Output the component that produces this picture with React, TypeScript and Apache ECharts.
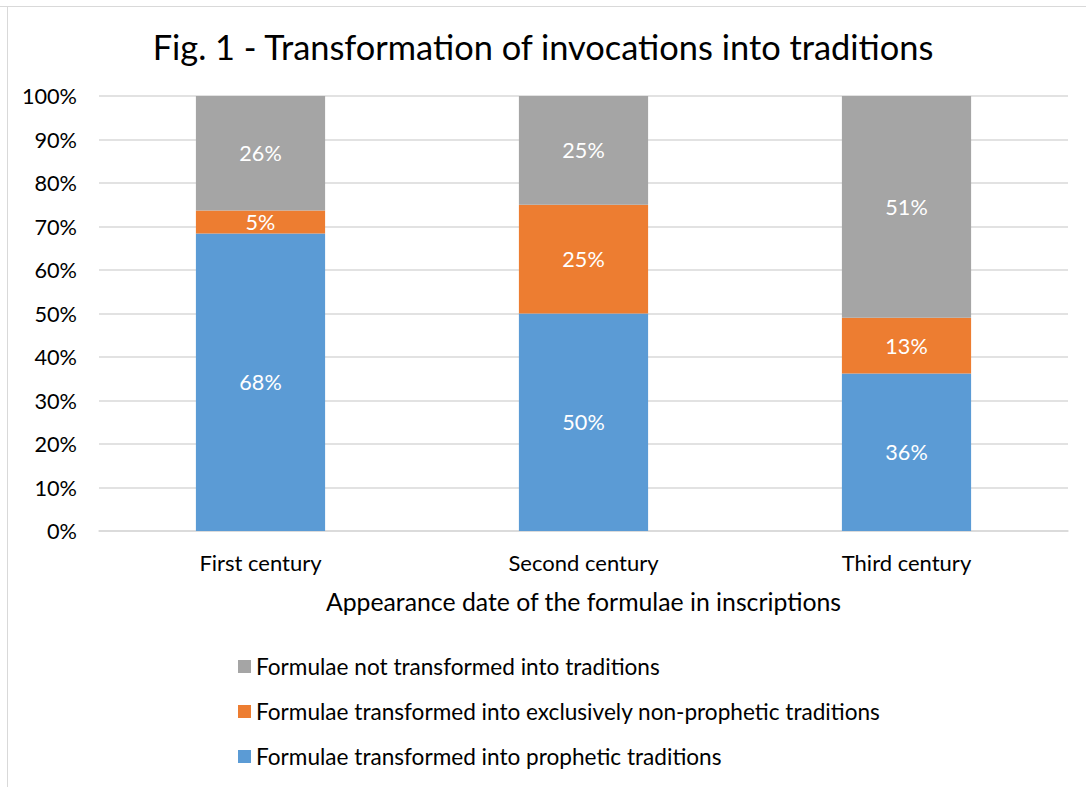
import React, { useEffect, useRef } from "react";
import * as echarts from "echarts";

const categories = ["First century", "Second century", "Third century"];
const prophetic = [68.4, 50, 36.2];
const nonProphetic = [5.3, 25, 12.8];
const notTransformed = [26.3, 25, 51];
const seriesNames = [
  "Formulae transformed into prophetic traditions",
  "Formulae transformed into exclusively non-prophetic traditions",
  "Formulae not transformed into traditions",
];
const colors = ["#5B9BD5", "#ED7D31", "#A5A5A5"];

const FONT = "Lato";

export default function App() {
  const ref = useRef<HTMLDivElement>(null);
  useEffect(() => {
    if (!ref.current) return;
    const chart = echarts.init(ref.current, undefined, { renderer: "svg" });
    const data = [prophetic, nonProphetic, notTransformed];
    chart.setOption({
      animation: false,
      backgroundColor: "#ffffff",
      textStyle: { fontFamily: FONT },
      title: {
        text: "Fig. 1 - Transformation of invocations into traditions",
        left: "center",
        top: 24,
        textStyle: { fontSize: 34.4, fontWeight: "normal", color: "#000", fontFamily: FONT },
      },
      graphic: [
        { type: "line", shape: { x1: 0, y1: 6.5, x2: 1086, y2: 6.5 }, style: { stroke: "#D9D9D9", lineWidth: 1 } },
        { type: "line", shape: { x1: 7.5, y1: 6, x2: 7.5, y2: 787 }, style: { stroke: "#D9D9D9", lineWidth: 1 } },
      ],
      grid: { left: 99, right: 18, top: 96, bottom: 256, containLabel: false },
      legend: {
        orient: "vertical",
        left: 233,
        top: 650,
        itemWidth: 13,
        itemHeight: 13,
        itemGap: 22,
        icon: "rect",
        data: [seriesNames[2], seriesNames[1], seriesNames[0]],
        textStyle: { fontSize: 22.6, color: "#000", fontFamily: FONT, lineHeight: 22, padding: [0, 0, 0, 0] },
      },
      xAxis: {
        type: "category",
        data: categories,
        axisTick: { show: false },
        axisLine: { lineStyle: { color: "#D9D9D9", width: 1.5 } },
        axisLabel: { fontSize: 22, color: "#000", margin: 20, fontFamily: FONT },
        name: "Appearance date of the formulae in inscriptions",
        nameLocation: "middle",
        nameGap: 58,
        nameTextStyle: { fontSize: 24.8, color: "#000", fontFamily: FONT },
      },
      yAxis: {
        type: "value",
        min: 0,
        max: 100,
        interval: 10,
        axisLabel: { formatter: "{value}%", fontSize: 21.7, color: "#000", margin: 22, fontFamily: FONT },
        splitLine: { lineStyle: { color: "#D9D9D9", width: 1.5 } },
        axisLine: { show: false },
        axisTick: { show: false },
      },
      series: seriesNames.map((name, i) => ({
        name,
        type: "bar",
        stack: "total",
        barWidth: "40%",
        data: data[i],
        itemStyle: { color: colors[i] },
        label: {
          show: true,
          position: "inside",
          color: "#fff",
          fontSize: 21.6,
          fontFamily: FONT,
          formatter: (p: any) => Math.round(p.value) + "%",
        },
      })),
    });
    return () => chart.dispose();
  }, []);
  return (
    <div
      ref={ref}
      style={{ position: "absolute", left: 0, top: 0, width: 1086, height: 787 }}
    />
  );
}
